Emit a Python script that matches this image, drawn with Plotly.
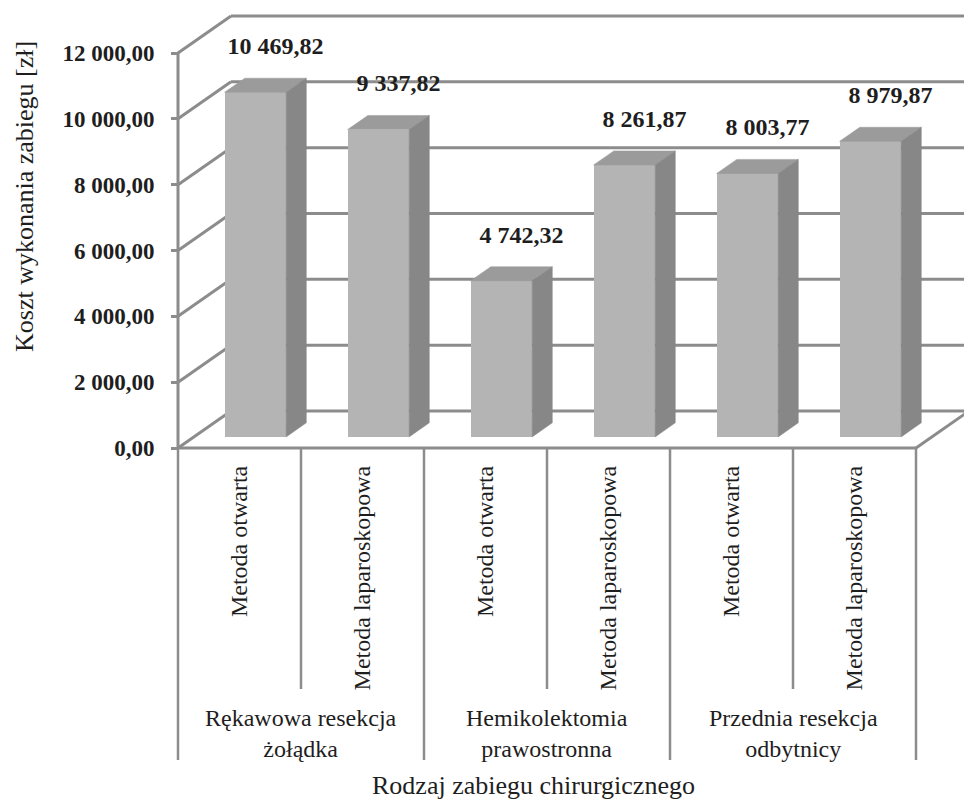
import plotly.graph_objects as go

# ---------------- data ----------------
groups = ["Rękawowa resekcja<br>żołądka", "Hemikolektomia<br>prawostronna", "Przednia resekcja<br>odbytnicy"]
methods = ["Metoda otwarta", "Metoda laparoskopowa"]
costs = [10469.82, 9337.82, 4742.32, 8261.87, 8003.77, 8979.87]
y_ticks = [0, 2000, 4000, 6000, 8000, 10000, 12000]
y_title = "Koszt wykonania zabiegu [zł]"
x_title = "Rodzaj zabiegu chirurgicznego"


def fmt(v):
    s = f"{v:,.2f}"
    return s.replace(",", " ").replace(".", ",")


# ---------------- geometry / style ----------------
W, H = 964, 802
PX0, PY0 = 178, 448          # pixel position of the front axis corner
PX_CAT = 123                 # pixels per category
PX_PER_UNIT = 395 / 12000    # pixels per value unit
UPP = 1 / PX_PER_UNIT
XR = [-PX0 / PX_CAT, (W - PX0) / PX_CAT]
YR = [-(H - PY0) * UPP, PY0 * UPP]
DX, DY = 53 / PX_CAT, 37 * UPP   # full depth offset of the chart box
F0, F1 = 0.30, 0.68              # depth fractions of bar front / back
BAR_W = 0.5
FONT = "Liberation Serif, Times New Roman, serif"
GRID = "#8c8c8c"
TXT = "#1e1e1e"
FRONT, TOP, SIDE = "#b4b4b4", "#9b9b9b", "#878787"

n = len(costs)
labels = [methods[i % 2] for i in range(n)]
centers = [i + 0.5 for i in range(n)]

fig = go.Figure()
shapes = []


def seg(x0, y0, x1, y1, w=3, c=GRID):
    shapes.append(dict(type="line", xref="x", yref="y", x0=x0, y0=y0, x1=x1, y1=y1,
                       line=dict(color=c, width=w), layer="below"))


# walls: side-wall diagonals + back-wall gridlines
for v in y_ticks:
    seg(0, v, DX, v + DY)
    seg(DX, v + DY, XR[1] + 0.5, v + DY)
# front vertical axis, floor edges
seg(0, 0, 0, y_ticks[-1])
seg(0, 0, n, 0)
seg(n, 0, n + DX, DY)
# category dividers below the floor
for j in range(n + 1):
    bottom = -(760 - PY0) * UPP if j % 2 == 0 else -(689 - PY0) * UPP
    seg(j, 0, j, bottom, w=2.5)

# bar front faces
fig.add_trace(go.Bar(
    x=[c + F0 * DX for c in centers], y=costs, base=F0 * DY, width=BAR_W,
    marker=dict(color=FRONT, line=dict(width=0)), hoverinfo="skip", showlegend=False))

# top and side faces
for c, v in zip(centers, costs):
    x0, x1 = c - BAR_W / 2, c + BAR_W / 2
    top_x = [x0 + F0 * DX, x1 + F0 * DX, x1 + F1 * DX, x0 + F1 * DX, x0 + F0 * DX]
    top_y = [v + F0 * DY, v + F0 * DY, v + F1 * DY, v + F1 * DY, v + F0 * DY]
    fig.add_trace(go.Scatter(x=top_x, y=top_y, fill="toself", fillcolor=TOP, mode="lines",
                             line=dict(color=TOP, width=0.5), hoverinfo="skip", showlegend=False))
    side_x = [x1 + F0 * DX, x1 + F0 * DX, x1 + F1 * DX, x1 + F1 * DX, x1 + F0 * DX]
    side_y = [F0 * DY, v + F0 * DY, v + F1 * DY, F1 * DY, F0 * DY]
    fig.add_trace(go.Scatter(x=side_x, y=side_y, fill="toself", fillcolor=SIDE, mode="lines",
                             line=dict(color=SIDE, width=0.5), hoverinfo="skip", showlegend=False))

# data labels
fig.add_trace(go.Scatter(
    x=[c + F1 * DX for c in centers], y=[v + F1 * DY + 30 * UPP for v in costs],
    mode="text", text=[f"<b>{fmt(v)}</b>" for v in costs], textposition="middle center",
    textfont=dict(family=FONT, size=24, color=TXT), hoverinfo="skip", showlegend=False))

annotations = []
for g, name in enumerate(groups):
    annotations.append(dict(x=2 * g + 1, y=-(733 - PY0) * UPP, xref="x", yref="y",
                            text=name, showarrow=False, xanchor="center", yanchor="middle",
                            font=dict(family=FONT, size=24, color=TXT)))
annotations.append(dict(x=25 / W, y=1 - 197 / H, xref="paper", yref="paper", text=y_title,
                        textangle=-90, showarrow=False, xanchor="center", yanchor="middle",
                        font=dict(family=FONT, size=26, color=TXT)))
annotations.append(dict(x=533 / W, y=1 - 785 / H, xref="paper", yref="paper", text=x_title,
                        showarrow=False, xanchor="center", yanchor="middle",
                        font=dict(family=FONT, size=26, color=TXT)))

fig.update_layout(
    width=W, height=H, margin=dict(l=0, r=0, t=0, b=0),
    paper_bgcolor="white", plot_bgcolor="white",
    shapes=shapes, annotations=annotations, bargap=0,
    xaxis=dict(range=XR, anchor="free", position=(H - PY0) / H,
               tickvals=centers, ticktext=labels, tickangle=-90, ticks="",
               ticklabelstandoff=12,
               showgrid=False, zeroline=False, showline=False, fixedrange=True,
               tickfont=dict(family=FONT, size=24, color=TXT)),
    yaxis=dict(range=YR, anchor="free", position=PX0 / W,
               tickvals=y_ticks, ticktext=[f"<b>{fmt(v)}</b>" for v in y_ticks],
               ticks="outside", ticklen=7, tickwidth=3, tickcolor=GRID,
               ticklabelstandoff=12,
               showgrid=False, zeroline=False, showline=False, fixedrange=True,
               tickfont=dict(family=FONT, size=23, color=TXT)),
)

fig.write_html("out.html")
